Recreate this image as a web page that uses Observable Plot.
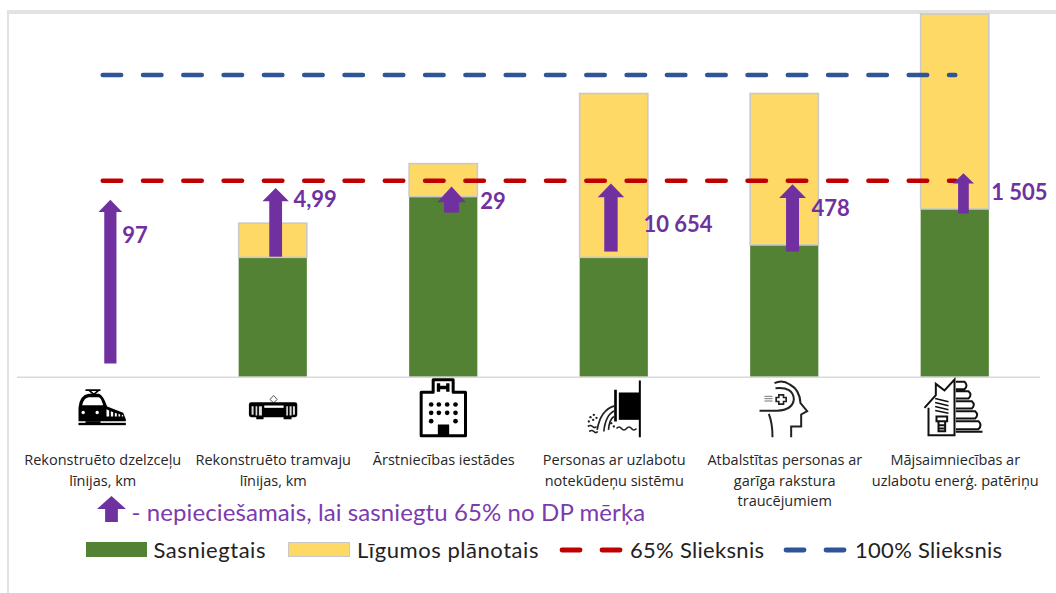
<!DOCTYPE html>
<html>
<head>
<meta charset="utf-8">
<script src="https://cdn.jsdelivr.net/npm/d3@7"></script>
<script src="https://cdn.jsdelivr.net/npm/@observablehq/plot@0.6"></script>
<style>
  html, body { margin: 0; padding: 0; background: #fff; overflow: hidden; }
  #page { position: relative; width: 1056px; height: 593px; overflow: hidden; }
  #frame { position: absolute; left: 7px; top: 10px; width: 1060px; height: 600px; box-sizing: border-box;
           border-left: 2px solid #e2e2e2; border-top: 4px solid #e2e2e2; }
  #chart { position: absolute; left: 0; top: 0; }
  #chart svg { display: block; overflow: visible; background: transparent; }
  #note { position: absolute; left: 97px; top: 496px; height: 26px; display: flex; align-items: center; }
  #note .arrow { width: 29px; height: 26px; background: #7030A0;
     clip-path: polygon(50% 0, 100% 50%, 72% 50%, 72% 100%, 28% 100%, 28% 50%, 0 50%); }
  #note span { position: absolute; left: 34.5px; top: 1px; font: 24px Lato, sans-serif; color: #7B3BAF; white-space: nowrap; letter-spacing: 0.1px; }
  #legend { position: absolute; left: 0; top: 0; font: 22px Lato, sans-serif; color: #222; }
  #legend > * { position: absolute; white-space: nowrap; }
  #legend .t { top: 536px; line-height: 28px; letter-spacing: 0.3px; }
  #legend .s { top: 542px; height: 14.5px; box-sizing: border-box; }
</style>
</head>
<body>
<div id="page">
  <div id="frame"></div>
  <div id="chart"></div>
  <div id="note"><div class="arrow"></div><span id="noteText"></span></div>
  <div id="legend"></div>
</div>
<script>
// ---------- data (percent of the target) ----------
const categories = [
  "Rekonstruēto dzelzceļu\nlīnijas, km",
  "Rekonstruēto tramvaju\nlīnijas, km",
  "Ārstniecības iestādes",
  "Personas ar uzlabotu\nnotekūdeņu sistēmu",
  "Atbalstītas personas ar\ngarīga rakstura\ntraucējumiem",
  "Mājsaimniecības ar\nuzlabotu enerģ. patēriņu"
];
const achieved = [0, 39.5, 59.6, 39.5, 43.6, 55.5];
const planned  = [0, 50.8, 70.5, 93.7, 93.7, 120];
const threshold65 = [65, 65, 65, 65, 65, 65];
const threshold100 = [100, 100, 100, 100, 100, 100];
const arrowFrom = [4.4, 39.7, 54.3, 41.4, 41.4, 54];
const arrowTo   = [58.7, 62.6, 63.1, 64.1, 63.8, 67.5];
const needLabels = ["97", "4,99", "29", "10 654", "478", "1 505"];
const needLabelAt = [46.6, 58.7, 57.9, 50.3, 55.6, 61];
const seriesNames = ["Sasniegtais", "Līgumos plānotais", "65% Slieksnis", "100% Slieksnis"];
const noteText = "- nepieciešamais, lai sasniegtu 65% no DP mērķa";

// ---------- styles ----------
const GREEN = "#548235", YELLOW = "#FFD966", EDGE = "#C9C9C9", PURPLE = "#7030A0", RED = "#C00000", BLUE = "#2F5597";
const PX_PER_PCT = 3.022;
const arrowDx   = [7.6, 2.4, 7.8, -3.3, 7.8, 8.2];
const shaftW    = [12.2, 12.8, 15, 13.4, 13, 10.7];
const headW     = [23.7, 26.4, 28.7, 26.5, 26.8, 21];
const headH     = [12.3, 13.3, 15.7, 13.7, 13.7, 10.3];
const labelDx   = [19.4, 20.2, 36.5, 29.2, 26.8, 35.9];

// ---------- icons ----------
const svgUri = (vb, body) => "data:image/svg+xml," + encodeURIComponent(
  `<svg xmlns="http://www.w3.org/2000/svg" viewBox="${vb}">${body}</svg>`);
const icons = [
  svgUri("0 0 210 180", `
    <path d="M45 35H90M55 35L70 48L85 35" fill="none" stroke="#000" stroke-width="5"/>
    <path d="M24 128V88Q27 50 55 46H85Q98 50 110 84L158 103L166 122V128Z" fill="#000"/>
    <path d="M35 80Q40 57 55 56H85Q92 58 98 80Z" fill="#fff"/>
    <circle cx="38" cy="102" r="5" fill="#fff"/><circle cx="80" cy="102" r="5" fill="#fff"/>
    <path d="M108 92l8 4v18h-8zM121 98l7 3v13h-7zM133 103l6 2v9h-6zM144 106l5 2v6h-5zM154 109l4 1v4h-4z" fill="#fff"/>
    <rect x="24" y="133" width="142" height="7" fill="#000"/><rect x="45" y="128" width="45" height="6" fill="#000"/>`),
  svgUri("0 0 210 135", `
    <path d="M100 30L111 42L100 52L89 42Z" fill="none" stroke="#555" stroke-width="3"/>
    <rect x="26" y="50" width="145" height="45" rx="7" fill="#000"/>
    <path d="M34 62h6v26h-6zM46 62h5v28h-5zM56 62h9v28h-9zM138 62h5v28h-5zM148 62h6v28h-6zM158 62h6v26h-6z" fill="#ddd"/>
    <rect x="72" y="60" width="58" height="7" fill="#fff"/>
    <path d="M48 93h22v8h-22zM130 93h24v8h-24z" fill="#000"/>`),
  svgUri("0 0 210 192", `
    <path d="M68 47V10H128V47H165V178H32V47Z" fill="#fff" stroke="#000" stroke-width="9" stroke-linejoin="round"/>
    <path d="M84 20V46M112 20V46M84 33H112" fill="none" stroke="#000" stroke-width="10"/>
    <g fill="#000"><circle cx="62" cy="84" r="7"/><circle cx="85" cy="84" r="7"/><circle cx="110" cy="84" r="7"/><circle cx="135" cy="84" r="7"/>
    <circle cx="62" cy="109" r="7"/><circle cx="85" cy="109" r="7"/><circle cx="110" cy="109" r="7"/><circle cx="135" cy="109" r="7"/>
    <circle cx="62" cy="134" r="7"/><circle cx="135" cy="134" r="7"/><rect x="82" y="144" width="34" height="34"/></g>`),
  svgUri("0 0 210 192", `
    <path d="M178 12V182" stroke="#000" stroke-width="6"/>
    <rect x="115" y="48" width="63" height="82" fill="#000"/>
    <path d="M105 40V135" stroke="#000" stroke-width="8"/>
    <g fill="none" stroke="#222" stroke-width="5">
      <path d="M102 88Q60 100 50 160M102 103Q75 115 70 165M100 120Q86 130 84 160"/>
      <path d="M108 156q8 -9 15 0t15 0t15 0t15 0"/>
      <path d="M22 150q8 -6 14 0t12 0M26 165q8 -6 14 0t12 0"/>
    </g>
    <g fill="#222"><circle cx="30" cy="122" r="3.5"/><circle cx="40" cy="115" r="3.5"/><circle cx="25" cy="135" r="3.5"/><circle cx="38" cy="130" r="3.5"/><circle cx="48" cy="124" r="3.5"/><circle cx="92" cy="140" r="3.5"/><circle cx="100" cy="150" r="3.5"/></g>`),
  svgUri("0 0 210 192", `
    <g fill="none" stroke="#222" stroke-width="6">
      <path d="M72 20Q95 8 118 24Q148 40 150 80L170 104L152 114V150H122V182"/>
      <path d="M75 35Q128 30 130 68Q128 100 80 103H27"/>
      <path d="M55 112Q66 140 66 182"/>
      <path d="M85 55h14v8h8v12h-8v8h-14v-8h-8v-12h8z" stroke-width="5"/>
    </g>
    <g fill="#777"><rect x="42" y="58" width="24" height="3"/><rect x="42" y="65" width="24" height="3"/><rect x="42" y="72" width="24" height="3"/></g>`),
  svgUri("0 0 210 192", `
    <g fill="none" stroke="#111" stroke-width="6">
      <path d="M18 100L52 62V28L78 48L108 15V182H30V100"/>
      <path d="M112 22H138Q150 33 138 44H112M112 50H150Q162 61 150 72H112M112 80H160Q172 91 160 102H112M112 110H170Q182 121 170 132H112M112 140H180Q192 152 180 164H112M112 172H192"/>
      <path d="M50 72L90 82M50 84L90 94M50 96L90 106M50 108L90 116" stroke-width="4.5"/>
      <path d="M54 126H86V140H54ZM60 140V170H80V140M60 152H80M60 162H80" stroke-width="6"/>
    </g>`)
];
const iconBox = [[70, 60, 2.75, 31.3], [70, 45, 2, 30.8], [70, 64, 1.75, 31.3], [70, 64, 1.25, 31.3], [70, 64, 0.75, 31.3], [70, 64, -1.75, 29.3]];

// ---------- chart ----------
const headSymbol = (w, h) => ({ draw(c) { c.moveTo(0, 0); c.lineTo(w / 2, h); c.lineTo(-w / 2, h); c.closePath(); } });

const plot = Plot.plot({
  width: 1056,
  height: 530,
  marginTop: 14,
  marginBottom: 153.3,
  marginLeft: 17,
  marginRight: 16,
  style: { background: "transparent", overflow: "visible" },
  x: { domain: categories, paddingInner: 0.6, paddingOuter: 0.3, round: false, axis: null },
  y: { domain: [0, 120], axis: null },
  marks: [
    Plot.barY(categories, { x: d => d, y: (d, i) => achieved[i], fill: GREEN }),
    Plot.barY(categories, { x: d => d, y1: (d, i) => achieved[i], y2: (d, i) => planned[i], fill: YELLOW, stroke: (d, i) => planned[i] > 0 ? EDGE : "none", strokeWidth: 1.6 }),
    Plot.ruleY([0], { stroke: "#D9D9D9", strokeWidth: 1.6 }),
    Plot.line(categories, { x: d => d, y: (d, i) => threshold100[i], stroke: BLUE, strokeWidth: 4.6, strokeLinecap: "round", strokeDasharray: "18.4 21.9" }),
    Plot.line(categories, { x: d => d, y: (d, i) => threshold65[i], stroke: RED, strokeWidth: 4.6, strokeLinecap: "round", strokeDasharray: "18.4 21.9" }),
    categories.map((c, i) => [
      Plot.ruleX([c], { x: d => d, y1: arrowFrom[i], y2: arrowTo[i] - headH[i] / PX_PER_PCT, dx: arrowDx[i], stroke: PURPLE, strokeWidth: shaftW[i] }),
      Plot.dot([c], { x: d => d, y: arrowTo[i], dx: arrowDx[i], symbol: headSymbol(headW[i], headH[i]), fill: PURPLE, stroke: "none" }),
      Plot.text([c], { x: d => d, y: needLabelAt[i], dx: labelDx[i], text: () => needLabels[i], textAnchor: "start", fill: PURPLE, fontSize: 22, fontWeight: 700, fontFamily: "Lato, sans-serif" }),
      Plot.image([c], { x: d => d, y: 0, src: () => icons[i], width: iconBox[i][0], height: iconBox[i][1], dx: iconBox[i][2], dy: iconBox[i][3] })
    ]),
    Plot.axisX({ tickSize: 0, tickPadding: 73, fontSize: 14.5, lineHeight: 1.43, fontFamily: "'Open Sans', sans-serif", fill: "#262626", tickFormat: d => d, textOverflow: null, label: null })
  ]
});
document.getElementById("chart").append(plot);
document.getElementById("noteText").textContent = noteText;

// ---------- legend ----------
const legend = document.getElementById("legend");
const add = (cls, left, width, css, text) => {
  const el = document.createElement("div");
  el.className = cls;
  el.style.left = left + "px";
  if (width) el.style.width = width + "px";
  if (css) el.style.cssText += css;
  if (text) el.textContent = text;
  legend.append(el);
};
add("s", 86, 61, `background:${GREEN};`);
add("t", 153.5, 0, "letter-spacing:0.55px;", seriesNames[0]);
add("s", 288, 62, `background:${YELLOW};border:1.5px solid ${EDGE};`);
add("t", 357, 0, "letter-spacing:0.55px;", seriesNames[1]);
const dashes = (left, colour) => {
  const ns = "http://www.w3.org/2000/svg";
  const s = document.createElementNS(ns, "svg");
  s.setAttribute("width", 70); s.setAttribute("height", 8);
  s.style.cssText = `left:${left}px;top:546px;`;
  for (const x0 of [3, 43]) {
    const l = document.createElementNS(ns, "line");
    l.setAttribute("x1", x0); l.setAttribute("x2", x0 + 18); l.setAttribute("y1", 4); l.setAttribute("y2", 4);
    l.setAttribute("stroke", colour); l.setAttribute("stroke-width", 4.8); l.setAttribute("stroke-linecap", "round");
    s.append(l);
  }
  legend.append(s);
};
dashes(559, RED);
add("t", 630, 0, "", seriesNames[2]);
dashes(783, BLUE);
add("t", 855, 0, "", seriesNames[3]);
</script>
</body>
</html>
